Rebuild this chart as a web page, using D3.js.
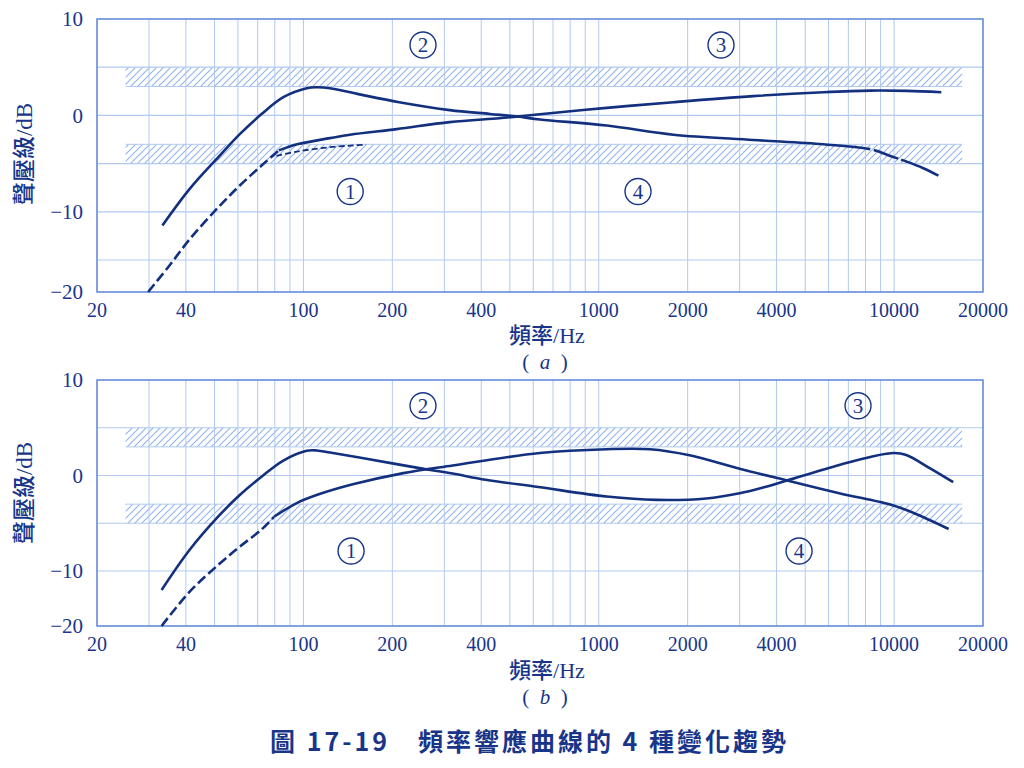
<!DOCTYPE html>
<html>
<head>
<meta charset="utf-8">
<script src="https://cdn.jsdelivr.net/npm/d3@7/dist/d3.min.js"></script>
<style>
  body { margin: 0; background: #fff; }
  svg { display: block; }
</style>
</head>
<body>
<svg id="chart" width="1024" height="768"></svg>
<script>
// ---- data ----
const freqTicks = [20, 40, 100, 200, 400, 1000, 2000, 4000, 10000, 20000];
const freqGrid = [30, 40, 50, 60, 70, 80, 90, 100, 200, 300, 400, 500, 600, 700, 800, 900,
  1000, 2000, 3000, 4000, 5000, 6000, 7000, 8000, 9000, 10000];
const dbTicks = [10, 0, -10, -20];
const bands = [[3, 5], [-5, -3]];
const bandFreqs = [25, 17000];

// panel (a)
const a_peakFall = [[33.3, -11.42], [41.2, -7.62], [51.5, -4.33], [61, -1.92], [72.3, 0.16], [85.5, 1.89],
  [102.6, 2.82], [110.9, 2.92], [123, 2.82], [155, 2.18], [211, 1.37], [313, 0.55], [428, 0.15],
  [530, -0.12], [632, -0.42], [1064, -1.05], [1789, -2.0], [3334, -2.55], [5758, -3.0], [8300, -3.5],
  [9600, -4.15], [11040, -4.8], [12500, -5.45], [14130, -6.25]];
const a_lowDash = [[29.8, -20], [35.3, -15.78], [41.2, -12.85], [51.5, -9.53], [61, -7.25], [72.3, -5.18], [82.6, -3.63]];
const a_rise = [[82.6, -3.63], [95.2, -3.0], [123, -2.36], [143.8, -2.0], [207, -1.42], [313, -0.7], [460, -0.3],
  [530, -0.12], [632, 0.12], [1064, 0.78], [1789, 1.37], [3334, 2.0], [5758, 2.4], [8300, 2.57],
  [11040, 2.54], [14450, 2.4]];
const a_flatDash = [[81, -4.2], [95, -3.75], [123, -3.3], [163, -3.03]];

// panel (b)
const b_wave = [[33.1, -13.45], [41.2, -7.78], [51.5, -4.29], [61, -2.02], [72.3, -0.1], [85.5, 1.57],
  [102.6, 2.59], [110.9, 2.62], [123, 2.41], [167, 1.7], [247, 0.77], [320, 0.2], [414, -0.45],
  [624, -1.2], [1064, -2.2], [1570, -2.55], [2312, -2.4], [3000, -1.85], [3600, -1.25], [4310, -0.55],
  [6520, 1.1], [8440, 2.0], [10000, 2.35], [11000, 2.15], [13200, 0.77], [15850, -0.7]];
const b_lowDash = [[33.1, -20], [41.2, -13.76], [51.5, -9.35], [61, -7.43], [72.3, -5.63], [79.5, -4.32]];
const b_hump = [[79.5, -4.32], [95.3, -2.86], [112.7, -1.97], [147, -0.92], [218, 0.25], [320, 1.05],
  [632, 2.35], [1064, 2.75], [1490, 2.75], [2030, 2.12], [3000, 0.7], [4310, -0.5], [6520, -1.85],
  [9880, -3.12], [11600, -3.9], [15300, -5.6]];

// circled region labels: [number, freq, dB]
const a_marks = [["1", 144, -7.9], ["2", 254, 7.3], ["3", 2594, 7.3], ["4", 1358, -7.9]];
const b_marks = [["1", 145, -7.9], ["2", 254, 7.3], ["3", 7550, 7.3], ["4", 4767, -7.9]];

// ---- styles ----
const navy = "#18358a";
const curveColor = "#13307e";
const gridColor = "#b1c9f1";
const frameColor = "#5a85d6";
const hatchColor = "#92b3ec";
const serif = "'Liberation Serif', 'DejaVu Serif', 'Noto Sans CJK TC', serif";

const panels = [
  {
    tag: "a", yDomain: [-20, -15, 10], yRange: [292, 260, 19], yGrid: [5, 0, -5, -10, -15],
    titleY: 154, xTitleY: 335, tagY: 362, marks: a_marks,
    curves: [
      { data: a_peakFall, dash: null, tailGapAt: 8300 },
      { data: a_lowDash, dash: "10,4" },
      { data: a_rise, dash: null },
      { data: a_flatDash, dash: "6,3", width: 1.8 }
    ]
  },
  {
    tag: "b", yDomain: [-20, -10, 10], yRange: [626, 571, 380], yGrid: [5, 0, -5, -10],
    titleY: 493, xTitleY: 670, tagY: 697, marks: b_marks,
    curves: [
      { data: b_wave, dash: null },
      { data: b_lowDash, dash: "10,4" },
      { data: b_hump, dash: null }
    ]
  }
];

const svg = d3.select("#chart");
svg.append("rect").attr("width", 1024).attr("height", 768).attr("fill", "#fff");

const defs = svg.append("defs");
const pat = defs.append("pattern")
  .attr("id", "hatch")
  .attr("patternUnits", "userSpaceOnUse")
  .attr("width", 7).attr("height", 7);
pat.append("path")
  .attr("d", "M-1,1 l2,-2 M0,7 l7,-7 M6,8 l2,-2")
  .attr("stroke", hatchColor)
  .attr("stroke-width", 1.1);

const x = d3.scaleLog().domain([20, 20000]).range([97, 983]);

function lengthAtX(node, tx) {
  let lo = 0, hi = node.getTotalLength();
  for (let i = 0; i < 30; i++) {
    const mid = (lo + hi) / 2;
    if (node.getPointAtLength(mid).x < tx) lo = mid; else hi = mid;
  }
  return lo;
}

panels.forEach(p => {
  const y = d3.scaleLinear().domain(p.yDomain).range(p.yRange);
  const g = svg.append("g");
  const yTop = y(10), yBot = y(-20);

  // hatched tolerance bands
  bands.forEach(b => {
    g.append("rect")
      .attr("x", x(bandFreqs[0]))
      .attr("y", y(b[1]))
      .attr("width", x(bandFreqs[1]) - x(bandFreqs[0]))
      .attr("height", y(b[0]) - y(b[1]))
      .attr("fill", "url(#hatch)");
    const inner = b[0] > 0 ? b[0] : b[1];
    g.append("line")
      .attr("x1", x(bandFreqs[0])).attr("x2", x(bandFreqs[1]))
      .attr("y1", y(inner)).attr("y2", y(inner))
      .attr("stroke", gridColor).attr("stroke-width", 1);
  });

  // grid
  g.append("g").selectAll("line").data(freqGrid).join("line")
    .attr("x1", d => x(d)).attr("x2", d => x(d))
    .attr("y1", yTop).attr("y2", yBot)
    .attr("stroke", gridColor).attr("stroke-width", 1);
  g.append("g").selectAll("line").data(p.yGrid).join("line")
    .attr("x1", x(20)).attr("x2", x(20000))
    .attr("y1", d => y(d)).attr("y2", d => y(d))
    .attr("stroke", gridColor).attr("stroke-width", 1.2);

  // frame
  g.append("rect")
    .attr("x", x(20)).attr("y", yTop)
    .attr("width", x(20000) - x(20)).attr("height", yBot - yTop)
    .attr("fill", "none").attr("stroke", frameColor).attr("stroke-width", 1.5);

  // curves
  const line = d3.line()
    .x(d => x(d[0])).y(d => y(d[1]))
    .curve(d3.curveCatmullRom.alpha(0.5));
  p.curves.forEach(c => {
    const path = g.append("path")
      .attr("d", line(c.data))
      .attr("fill", "none")
      .attr("stroke", curveColor)
      .attr("stroke-width", c.width || 2.6)
      .attr("stroke-linecap", "butt");
    if (c.dash) path.attr("stroke-dasharray", c.dash);
    if (c.tailGapAt) {
      const node = path.node();
      const L = node.getTotalLength();
      const l1 = lengthAtX(node, x(c.tailGapAt));
      path.attr("stroke-dasharray", `${l1} 3.5 26 3 ${L}`);
    }
  });

  // circled labels
  const mk = g.append("g").selectAll("g").data(p.marks).join("g")
    .attr("transform", d => `translate(${x(d[1])},${y(d[2])})`);
  mk.append("circle").attr("r", 13)
    .attr("fill", "none").attr("stroke", navy).attr("stroke-width", 1.4);
  mk.append("text")
    .attr("text-anchor", "middle").attr("dy", "0.35em")
    .attr("font-family", serif).attr("font-size", 21).attr("fill", navy)
    .text(d => d[0]);

  // y tick labels
  g.append("g").selectAll("text").data(dbTicks).join("text")
    .attr("x", 83).attr("y", d => y(d))
    .attr("dy", "0.35em")
    .attr("text-anchor", "end")
    .attr("font-family", serif).attr("font-size", 21).attr("fill", navy)
    .text(d => d < 0 ? "\u2212" + Math.abs(d) : String(d));

  // x tick labels
  g.append("g").selectAll("text").data(freqTicks).join("text")
    .attr("x", d => x(d)).attr("y", yBot + 18)
    .attr("dy", "0.35em")
    .attr("text-anchor", "middle")
    .attr("font-family", serif).attr("font-size", 20).attr("fill", navy)
    .text(d => String(d));

  // axis titles
  g.append("text")
    .attr("transform", `translate(24,${p.titleY}) rotate(-90)`)
    .attr("text-anchor", "middle").attr("dy", "0.35em")
    .attr("font-family", serif).attr("font-size", 23).attr("font-weight", 500).attr("fill", navy)
    .text("聲壓級/dB");
  g.append("text")
    .attr("x", 547).attr("y", p.xTitleY).attr("dy", "0.35em")
    .attr("text-anchor", "middle")
    .attr("font-family", serif).attr("font-size", 22).attr("font-weight", 500).attr("fill", navy)
    .text("頻率/Hz");
  const t = g.append("text")
    .attr("x", 545).attr("y", p.tagY).attr("dy", "0.35em")
    .attr("text-anchor", "middle")
    .attr("font-family", serif).attr("font-size", 21).attr("fill", navy)
    .attr("xml:space", "preserve");
  t.append("tspan").text("(\u2002");
  t.append("tspan").attr("font-style", "italic").text(p.tag);
  t.append("tspan").text("\u2002)");
});

// caption
svg.append("text")
  .attr("x", 270).attr("y", 742).attr("dy", "0.35em")
  .attr("textLength", 516).attr("lengthAdjust", "spacing")
  .attr("font-family", "'Noto Sans CJK TC', 'Noto Sans', sans-serif")
  .attr("font-weight", "bold").attr("font-size", 25).attr("fill", navy)
  .text("圖 17-19\u3000頻率響應曲線的 4 種變化趨勢");
</script>
</body>
</html>
